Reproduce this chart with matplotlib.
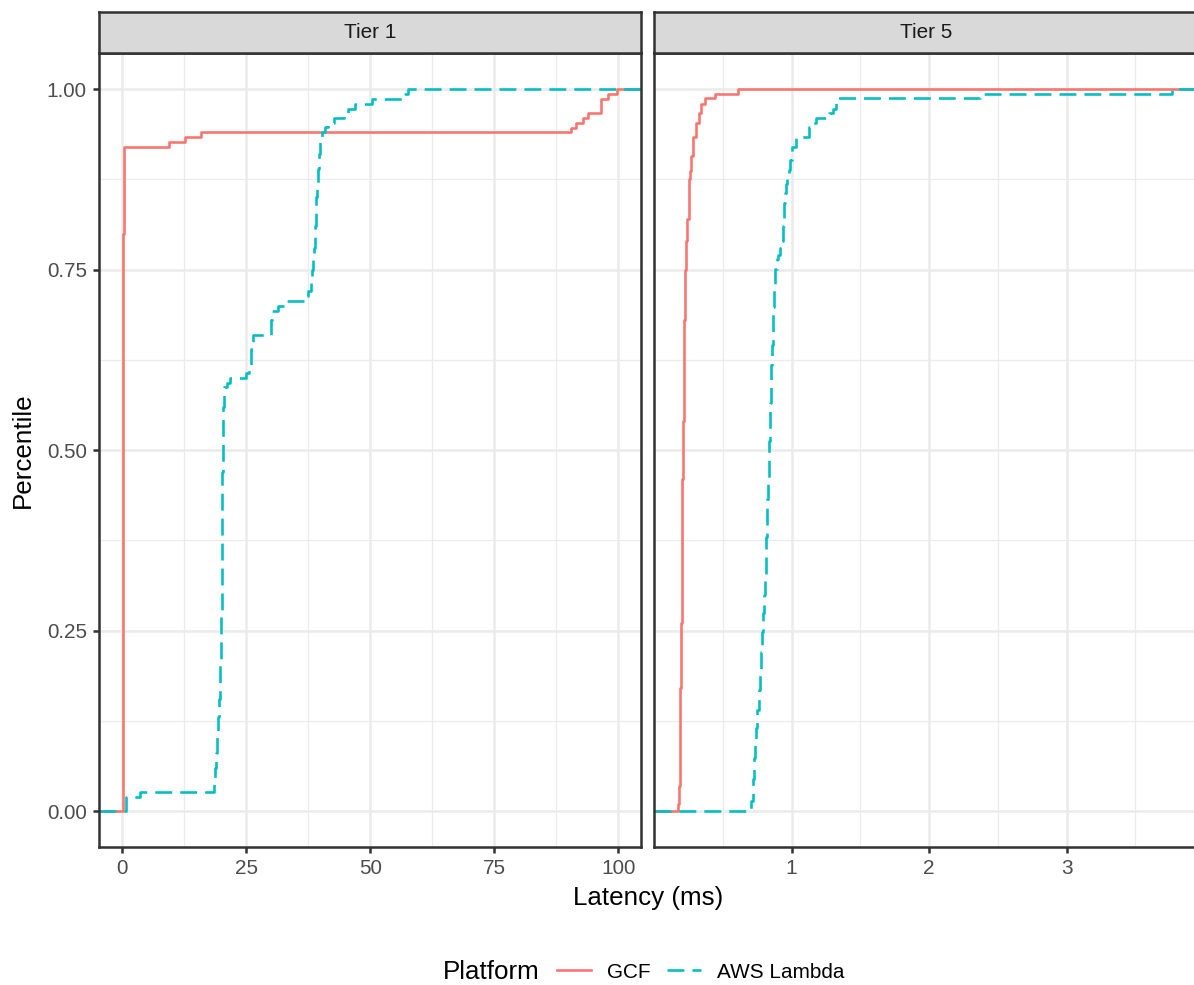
import numpy as np
import matplotlib.pyplot as plt
from matplotlib.lines import Line2D

plt.rcParams['font.family'] = ['Liberation Sans', 'DejaVu Sans']

# ECDF step points: latency (ms) where a step occurs, level after it
gcf_t1_x = [0.15, 0.20, 0.25, 0.30, 0.38, 0.50, 9.45, 12.7, 16.0, 90.4, 91.5, 92.9, 93.9, 96.6, 98.0, 99.7]
gcf_t1_y = [0.02, 0.30, 0.60, 0.80, 0.88, 0.92, 0.9267, 0.9333, 0.94, 0.9467, 0.9533, 0.96, 0.9667, 0.9867, 0.9933, 1.0]

aws_t1_x = [0.8, 3.6, 18.6, 18.8, 19.0, 19.2, 19.4, 19.55, 19.7, 19.8, 19.9, 20.0, 20.05, 20.1, 20.15,
            20.2, 20.3, 20.4, 20.6, 21.1, 21.8,
            24.9, 25.6, 26.0, 26.4, 30.0, 30.3, 31.5, 33.0, 37.0, 37.5, 38.0, 38.2, 38.4, 38.55, 38.7,
            38.8, 38.9, 39.0, 39.1, 39.25, 39.4, 39.6, 39.8, 40.2, 41.0, 41.6, 42.8, 44.8, 45.6, 47.0,
            50.3, 56.8, 57.7]
aws_t1_y = [0.02, 0.0267, 0.04, 0.06, 0.08, 0.105, 0.13, 0.155, 0.18, 0.205, 0.23, 0.27, 0.32, 0.37, 0.42,
            0.47, 0.52, 0.56, 0.587, 0.593, 0.60,
            0.607, 0.613, 0.64, 0.66, 0.68, 0.693, 0.70, 0.707, 0.713, 0.72, 0.74, 0.75, 0.76, 0.77, 0.78,
            0.795, 0.81, 0.83, 0.85, 0.87, 0.89, 0.91, 0.93, 0.94, 0.947, 0.953, 0.96, 0.967, 0.973, 0.98,
            0.9867, 0.9933, 1.0]

gcf_t5_x = [0.178, 0.183, 0.186, 0.19, 0.193, 0.197, 0.20, 0.203, 0.207, 0.211, 0.215, 0.219, 0.224,
            0.232, 0.239, 0.251, 0.259, 0.271, 0.281, 0.309, 0.327, 0.339, 0.372, 0.44, 0.61]
gcf_t5_y = [0.01, 0.035, 0.10, 0.17, 0.22, 0.26, 0.30, 0.38, 0.46, 0.54, 0.62, 0.68, 0.75,
            0.79, 0.82, 0.875, 0.887, 0.907, 0.933, 0.953, 0.967, 0.98, 0.987, 0.993, 1.0]

aws_t5_x = [0.707, 0.718, 0.73, 0.737, 0.744, 0.752, 0.761, 0.768, 0.776, 0.784, 0.793, 0.799, 0.805,
            0.811, 0.817, 0.82, 0.824, 0.829, 0.834, 0.837, 0.841, 0.845, 0.849, 0.854, 0.859, 0.862,
            0.866, 0.874, 0.883, 0.893, 0.905, 0.918, 0.93, 0.936, 0.942, 0.948, 0.955, 0.961, 0.967,
            0.98, 0.992, 1.005, 1.03, 1.13, 1.15, 1.18, 1.27, 1.30, 1.32, 2.37, 3.77]
aws_t5_y = [0.014, 0.045, 0.073, 0.094, 0.115, 0.14, 0.168, 0.195, 0.221, 0.248, 0.274, 0.30, 0.327,
            0.353, 0.38, 0.407, 0.433, 0.46, 0.486, 0.512, 0.539, 0.565, 0.592, 0.618, 0.645, 0.671,
            0.698, 0.725, 0.751, 0.765, 0.77, 0.78, 0.79, 0.81, 0.828, 0.842, 0.856, 0.868, 0.879,
            0.888, 0.902, 0.92, 0.933, 0.947, 0.953, 0.96, 0.967, 0.973, 0.987, 0.993, 1.0]

facets = ['Tier 1', 'Tier 5']
platforms = ['GCF', 'AWS Lambda']
colors = ['#F8766D', '#00BFC4']
styles = ['-', (0, (6.5, 3.1))]
series = {
    'Tier 1': [(gcf_t1_x, gcf_t1_y), (aws_t1_x, aws_t1_y)],
    'Tier 5': [(gcf_t5_x, gcf_t5_y), (aws_t5_x, aws_t5_y)],
}
xlims = {'Tier 1': (-4.63, 104.5), 'Tier 5': (0.0, 3.953)}
xmajor = {'Tier 1': [0, 25, 50, 75, 100], 'Tier 5': [1, 2, 3]}
xminor = {'Tier 1': [12.5, 37.5, 62.5, 87.5], 'Tier 5': [0.5, 1.5, 2.5, 3.5]}

W, H, DPI = 1194, 985, 170
fig = plt.figure(figsize=(W / DPI, H / DPI), dpi=DPI)

panel_px = {'Tier 1': (99, 640.7), 'Tier 5': (654, 1197.6)}
top_px, bot_px = 53, 847.3
strip_top = 11.7

lw = 1.1
for facet in facets:
    x0, x1 = panel_px[facet]
    ax = fig.add_axes([x0 / W, 1 - bot_px / H, (x1 - x0) / W, (bot_px - top_px) / H])
    ax.set_xlim(*xlims[facet])
    ax.set_ylim(-0.05, 1.05)
    xmin, xmax = xlims[facet]
    for (xs, ys), c, ls in zip(series[facet], colors, styles):
        px = [xmin] + list(xs) + [xmax]
        py = [0] + list(ys) + [ys[-1]]
        ax.plot(px, py, drawstyle='steps-post', color=c, lw=lw, linestyle=ls)

    ax.set_xticks(xmajor[facet])
    ax.set_xticks(xminor[facet], minor=True)
    ax.set_yticks([0, 0.25, 0.5, 0.75, 1.0])
    ax.set_yticks([0.125, 0.375, 0.625, 0.875], minor=True)
    ax.grid(which='major', color='#EBEBEB', lw=1.07)
    ax.grid(which='minor', color='#EBEBEB', lw=0.53)
    ax.set_axisbelow(True)
    ax.tick_params(which='minor', length=0)
    ax.tick_params(which='major', length=2.75, width=1.07, color='#333333',
                   labelcolor='#4D4D4D', labelsize=8.8, pad=2.4)
    if facet == 'Tier 1':
        ax.set_yticklabels(['0.00', '0.25', '0.50', '0.75', '1.00'])
    else:
        ax.tick_params(axis='y', left=False, labelleft=False)
    for sp in ax.spines.values():
        sp.set_color('#333333')
        sp.set_linewidth(1.07)

    sax = fig.add_axes([x0 / W, 1 - top_px / H, (x1 - x0) / W, (top_px - strip_top) / H])
    sax.set_facecolor('#D9D9D9')
    sax.set_xticks([])
    sax.set_yticks([])
    for sp in sax.spines.values():
        sp.set_color('#333333')
        sp.set_linewidth(1.07)
    sax.text(0.5, 0.5, facet, ha='center', va='center', fontsize=8.8, color='#1A1A1A',
             transform=sax.transAxes)

fig.text(648 / W, 1 - 898 / H, 'Latency (ms)', ha='center', va='center', fontsize=11)
fig.text(23 / W, 1 - 450 / H, 'Percentile', ha='center', va='center', rotation=90, fontsize=11)

# legend at the bottom, title on the left as in ggplot
fig.text(443 / W, 1 - 972 / H, 'Platform', ha='left', va='center', fontsize=11)
handles = [Line2D([], [], color=c, lw=lw, linestyle=ls) for c, ls in zip(colors, styles)]
fig.legend(handles, platforms, loc='center left', bbox_to_anchor=(557 / W, 1 - 972 / H),
           ncol=2, frameon=False, fontsize=8.8, handlelength=1.65, handletextpad=0.75,
           columnspacing=0.8, borderpad=0, borderaxespad=0)

fig.savefig('out.png', dpi=DPI)
